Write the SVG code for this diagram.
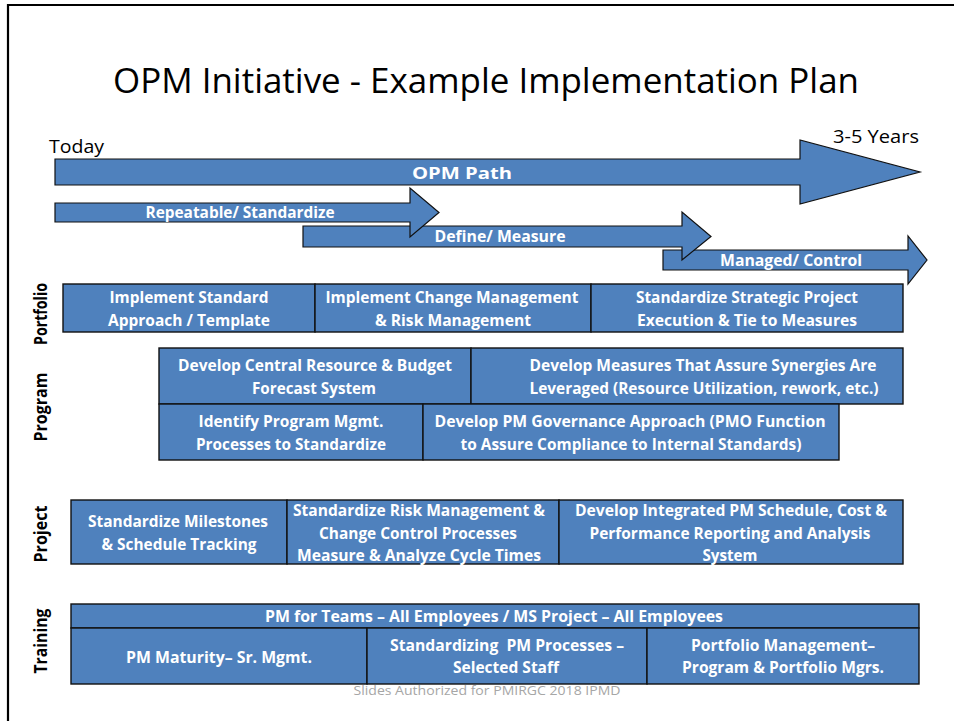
<svg xmlns="http://www.w3.org/2000/svg" width="954" height="721" viewBox="0 0 954 721">
<style>
.bx{fill:#4F81BD;stroke:#111;stroke-width:1.4}
.ar{fill:#4F81BD;stroke:#111;stroke-width:1.2}
.t{font-family:"Open Sans","Liberation Sans",sans-serif;font-weight:bold;font-size:16px;fill:#fff;text-anchor:middle}
.lbl{font-family:"Open Sans","Liberation Sans",sans-serif;font-weight:bold;font-size:17px;fill:#000;text-anchor:middle}
.plain{font-family:"Open Sans","Liberation Sans",sans-serif;fill:#000}
</style>
<rect width="954" height="721" fill="#fff"/>
<path d="M8,721 L8,5 L954,5" fill="none" stroke="#000" stroke-width="2.2"/>
<text class="plain" x="486" y="93" font-size="34" text-anchor="middle" textLength="746" lengthAdjust="spacingAndGlyphs">OPM Initiative - Example Implementation Plan</text>
<text class="plain" x="49" y="153" font-size="19" textLength="55" lengthAdjust="spacingAndGlyphs">Today</text>
<text class="plain" x="833" y="143" font-size="19" textLength="86" lengthAdjust="spacingAndGlyphs">3-5 Years</text>

<g id="arrow-opm-path">
<path class="ar" d="M55,159 L800,159 L800,140 L920,172 L800,204 L800,185 L55,185 Z"/>
<text class="t" x="462" y="179" font-size="20" textLength="100" lengthAdjust="spacingAndGlyphs">OPM Path</text>
</g>
<g id="arrow-managed">
<path class="ar" d="M663,250 L908,250 L908,236 L927,260 L908,284 L908,270 L663,270 Z"/>
<text class="t" x="791" y="266" font-size="15" textLength="142" lengthAdjust="spacingAndGlyphs">Managed/ Control</text>
</g>
<g id="arrow-define">
<path class="ar" d="M303,226 L682,226 L682,212 L711,236.5 L682,260 L682,247 L303,247 Z"/>
<text class="t" x="500" y="242" font-size="15" textLength="131" lengthAdjust="spacingAndGlyphs">Define/ Measure</text>
</g>
<g id="arrow-repeatable">
<path class="ar" d="M55,203 L410,203 L410,188 L439,212.5 L410,237 L410,222 L55,222 Z"/>
<text class="t" x="240" y="218" font-size="15" textLength="189" lengthAdjust="spacingAndGlyphs">Repeatable/ Standardize</text>
</g>

<g id="row-labels">
<text class="lbl" transform="translate(47,314) rotate(-90)" textLength="62" lengthAdjust="spacingAndGlyphs">Portfolio</text>
<text class="lbl" transform="translate(47,407) rotate(-90)" textLength="69" lengthAdjust="spacingAndGlyphs">Program</text>
<text class="lbl" transform="translate(47,534) rotate(-90)" textLength="57" lengthAdjust="spacingAndGlyphs">Project</text>
<text class="lbl" transform="translate(47,641) rotate(-90)" textLength="65" lengthAdjust="spacingAndGlyphs">Training</text>
</g>

<g id="portfolio-1">
<rect class="bx" x="63" y="284" width="252" height="48"/>
<text class="t" x="189" y="303" textLength="159" lengthAdjust="spacingAndGlyphs">Implement Standard</text>
<text class="t" x="189" y="326" textLength="162" lengthAdjust="spacingAndGlyphs">Approach / Template</text>
</g>
<g id="portfolio-2">
<rect class="bx" x="315" y="284" width="276" height="48"/>
<text class="t" x="452" y="303" textLength="253" lengthAdjust="spacingAndGlyphs">Implement Change Management</text>
<text class="t" x="453" y="326" textLength="156" lengthAdjust="spacingAndGlyphs">&amp; Risk Management</text>
</g>
<g id="portfolio-3">
<rect class="bx" x="591" y="284" width="312" height="48"/>
<text class="t" x="747" y="303" textLength="222" lengthAdjust="spacingAndGlyphs">Standardize Strategic Project</text>
<text class="t" x="747" y="326" textLength="220" lengthAdjust="spacingAndGlyphs">Execution &amp; Tie to Measures</text>
</g>

<g id="program-1">
<rect class="bx" x="159" y="348" width="312" height="56"/>
<text class="t" x="315" y="371" textLength="274" lengthAdjust="spacingAndGlyphs">Develop Central Resource &amp; Budget</text>
<text class="t" x="314" y="394" textLength="124" lengthAdjust="spacingAndGlyphs">Forecast System</text>
</g>
<g id="program-2">
<rect class="bx" x="471" y="348" width="432" height="56"/>
<text class="t" x="703" y="371" textLength="347" lengthAdjust="spacingAndGlyphs">Develop Measures That Assure Synergies Are</text>
<text class="t" x="704" y="394" textLength="349" lengthAdjust="spacingAndGlyphs">Leveraged (Resource Utilization, rework, etc.)</text>
</g>
<g id="program-3">
<rect class="bx" x="159" y="404" width="264" height="56"/>
<text class="t" x="291" y="427" textLength="185" lengthAdjust="spacingAndGlyphs">Identify Program Mgmt.</text>
<text class="t" x="291" y="450" textLength="190" lengthAdjust="spacingAndGlyphs">Processes to Standardize</text>
</g>
<g id="program-4">
<rect class="bx" x="423" y="404" width="416" height="56"/>
<text class="t" x="630" y="427" textLength="391" lengthAdjust="spacingAndGlyphs">Develop PM Governance Approach (PMO Function</text>
<text class="t" x="631" y="450" textLength="341" lengthAdjust="spacingAndGlyphs">to Assure Compliance to Internal Standards)</text>
</g>

<g id="project-1">
<rect class="bx" x="71" y="500" width="216" height="64"/>
<text class="t" x="178" y="527" textLength="180" lengthAdjust="spacingAndGlyphs">Standardize Milestones</text>
<text class="t" x="179" y="550" textLength="155" lengthAdjust="spacingAndGlyphs">&amp; Schedule Tracking</text>
</g>
<g id="project-2">
<rect class="bx" x="287" y="500" width="272" height="64"/>
<text class="t" x="419" y="516" textLength="252" lengthAdjust="spacingAndGlyphs">Standardize Risk Management &amp;</text>
<text class="t" x="418" y="539" textLength="198" lengthAdjust="spacingAndGlyphs">Change Control Processes</text>
<text class="t" x="419" y="561" textLength="244" lengthAdjust="spacingAndGlyphs">Measure &amp; Analyze Cycle Times</text>
</g>
<g id="project-3">
<rect class="bx" x="559" y="500" width="344" height="64"/>
<text class="t" x="731" y="516" textLength="312" lengthAdjust="spacingAndGlyphs">Develop Integrated PM Schedule, Cost &amp;</text>
<text class="t" x="730" y="539" textLength="281" lengthAdjust="spacingAndGlyphs">Performance Reporting and Analysis</text>
<text class="t" x="730" y="561" textLength="55" lengthAdjust="spacingAndGlyphs">System</text>
</g>

<g id="training-all">
<rect class="bx" x="71" y="604" width="848" height="24"/>
<text class="t" x="494" y="622" textLength="458" lengthAdjust="spacingAndGlyphs">PM for Teams – All Employees / MS Project – All Employees</text>
</g>
<g id="training-1">
<rect class="bx" x="71" y="628" width="296" height="56"/>
<text class="t" x="219" y="663" textLength="186" lengthAdjust="spacingAndGlyphs">PM Maturity– Sr. Mgmt.</text>
</g>
<g id="training-2">
<rect class="bx" x="367" y="628" width="280" height="56"/>
<text class="t" x="507" y="651" xml:space="preserve" textLength="234" lengthAdjust="spacingAndGlyphs">Standardizing  PM Processes –</text>
<text class="t" x="506" y="673" textLength="106" lengthAdjust="spacingAndGlyphs">Selected Staff</text>
</g>
<g id="training-3">
<rect class="bx" x="647" y="628" width="272" height="56"/>
<text class="t" x="783" y="651" textLength="184" lengthAdjust="spacingAndGlyphs">Portfolio Management–</text>
<text class="t" x="783" y="673" textLength="202" lengthAdjust="spacingAndGlyphs">Program &amp; Portfolio Mgrs.</text>
</g>

<g id="connectors"></g>

<text class="plain" x="487" y="695" font-size="13" style="fill:#a6a6a6" text-anchor="middle" textLength="267" lengthAdjust="spacingAndGlyphs">Slides Authorized for PMIRGC 2018 IPMD</text>
</svg>
